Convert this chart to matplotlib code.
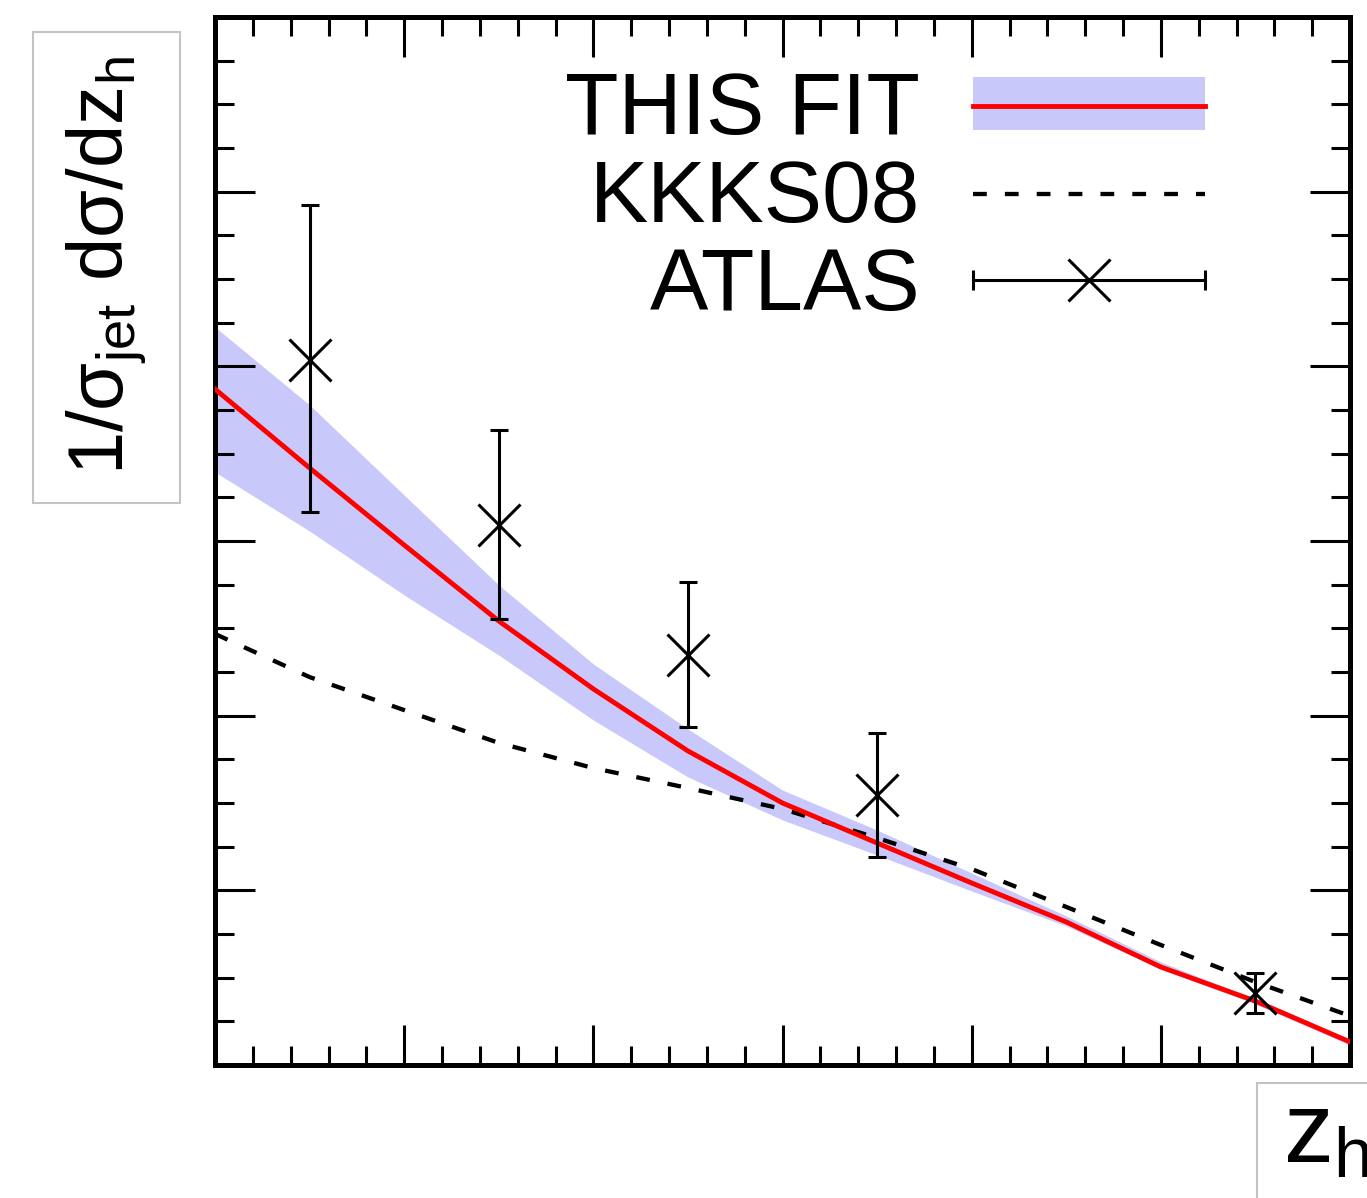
import numpy as np
import matplotlib
matplotlib.use("Agg")
import matplotlib.pyplot as plt
from matplotlib.lines import Line2D
from matplotlib.patches import Patch, Rectangle
from matplotlib.legend_handler import HandlerBase, HandlerTuple
from matplotlib.ticker import MultipleLocator

plt.rcParams['font.family'] = ['Liberation Sans', 'DejaVu Sans']
plt.rcParams['mathtext.default'] = 'regular'

# curves
z_grid = [0.0, 0.05, 0.10, 0.15, 0.20, 0.25, 0.30, 0.35, 0.40, 0.45, 0.50, 0.55, 0.60]
fit_central = [3.870, 3.418, 2.977, 2.542, 2.153, 1.798, 1.500, 1.271, 1.042, 0.819, 0.561, 0.366, 0.132]
fit_upper = [4.225, 3.779, 3.263, 2.748, 2.296, 1.924, 1.574, 1.345, 1.099, 0.853, 0.590, 0.378, 0.143]
fit_lower = [3.395, 3.057, 2.691, 2.347, 1.975, 1.649, 1.403, 1.202, 0.996, 0.796, 0.550, 0.349, 0.115]
kkks08 = [2.468, 2.221, 2.032, 1.844, 1.700, 1.586, 1.466, 1.300, 1.122, 0.905, 0.687, 0.475, 0.281]

# ATLAS points
atlas_z = [0.05, 0.15, 0.25, 0.35, 0.55]
atlas_val = [4.036, 3.092, 2.347, 1.546, 0.412]
atlas_hi = [4.924, 3.635, 2.765, 1.901, 0.527]
atlas_lo = [3.166, 2.553, 1.935, 1.191, 0.298]

band_col = '#c8c8fa'
red = '#ff0000'
lw_err = 2.2
lw_fit = 3.5
lw_kk = 3.1
kk_dash = (0, (3.2, 4.2))


class AtlasHandler(HandlerBase):
    # gnuplot style key: horizontal bar with end caps and a cross in the middle
    def create_artists(self, legend, orig_handle, xdescent, ydescent,
                       width, height, fontsize, trans):
        y = height / 2 - ydescent
        x0, x1 = -xdescent, width - xdescent
        bar = Line2D([x0, x1], [y, y], color='k', lw=lw_err)
        caps = Line2D([x0, x1], [y, y], ls='', marker='|', ms=14, mew=lw_err, color='k')
        mid = Line2D([(x0 + x1) / 2], [y], ls='', marker='x', ms=30, mew=lw_err, color='k')
        for a in (bar, caps, mid):
            a.set_transform(trans)
        return [bar, caps, mid]


fig = plt.figure(figsize=(13.67, 11.98), dpi=100)
ax = fig.add_axes([215 / 1367, 1 - 1065 / 1198, 1135 / 1367, 1048 / 1198])

ax.fill_between(z_grid, fit_lower, fit_upper, color=band_col, lw=0, zorder=1)
ax.plot(z_grid, fit_central, color=red, lw=lw_fit, zorder=3)
ax.plot(z_grid, kkks08, color='k', lw=lw_kk, ls=kk_dash, zorder=2)
yerr = [np.array(atlas_val) - np.array(atlas_lo), np.array(atlas_hi) - np.array(atlas_val)]
ax.errorbar(atlas_z, atlas_val, yerr=yerr, fmt='x', ms=30, mew=lw_err, color='k',
            elinewidth=lw_err, capsize=6.5, capthick=lw_err, zorder=4)

ax.set_xlim(0, 0.6)
ax.set_ylim(0, 6)
ax.xaxis.set_major_locator(MultipleLocator(0.1))
ax.xaxis.set_minor_locator(MultipleLocator(0.02))
ax.yaxis.set_major_locator(MultipleLocator(1))
ax.yaxis.set_minor_locator(MultipleLocator(0.25))
ax.tick_params(which='both', direction='in', top=True, right=True,
               labelbottom=False, labelleft=False, width=2.2, color='k')
ax.tick_params(which='major', length=29)
ax.tick_params(which='minor', length=14)
for s in ax.spines.values():
    s.set_linewidth(3.6)

h_fit = (Patch(facecolor=band_col, edgecolor='none'), Line2D([], [], color=red, lw=lw_fit))
h_kk = Line2D([], [], color='k', lw=lw_kk, ls=kk_dash)
h_atlas = Line2D([], [], color='k')
leg = ax.legend([h_fit, h_kk, h_atlas], ['THIS FIT', 'KKKS08', 'ATLAS'],
                handler_map={tuple: HandlerTuple(ndivide=1, pad=0), h_atlas: AtlasHandler()},
                loc='upper right', bbox_to_anchor=(0.872, 0.948), markerfirst=False,
                frameon=False, fontsize=63, handlelength=2.65, handleheight=0.55,
                handletextpad=0.6, labelspacing=0.08, borderpad=0, borderaxespad=0)

# axis labels drawn in grey boxes like the original
fig.text(107 / 1367, 1 - 266 / 1198, '1/σ$_{jet}$ dσ/dz$_{h}$', rotation=90,
         ha='center', va='center', fontsize=56)
fig.add_artist(Rectangle((33 / 1367, 1 - 503 / 1198), 147 / 1367, 471 / 1198,
                         transform=fig.transFigure, fill=False, ec='#c4c4c4', lw=1.5))
fig.text(1283 / 1367, 1 - 1162 / 1198, 'z$_{h}$', ha='left', va='baseline', fontsize=72)
fig.add_artist(Rectangle((1257 / 1367, -0.01), 0.2, (1198 - 1083) / 1198 + 0.01,
                         transform=fig.transFigure, fill=False, ec='#c4c4c4', lw=1.5))

fig.savefig('out.png', dpi=100)
